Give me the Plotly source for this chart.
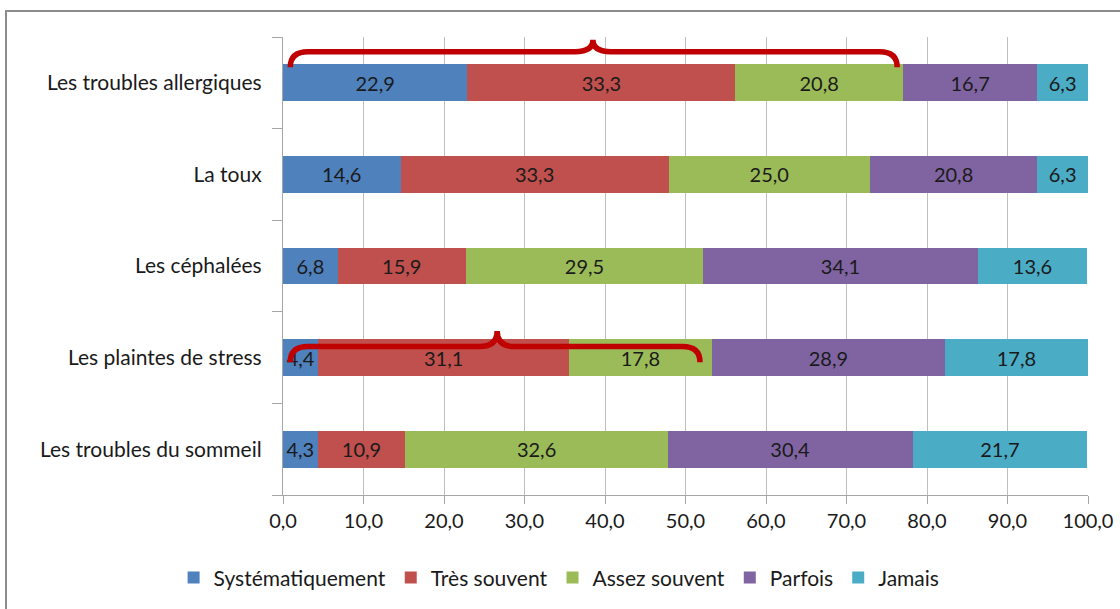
import plotly.graph_objects as go

# categories (bottom to top, as drawn)
categories = ["Les troubles du sommeil", "Les plaintes de stress", "Les céphalées",
              "La toux", "Les troubles allergiques"]

series_names = ["Systématiquement", "Très souvent", "Assez souvent", "Parfois", "Jamais"]
systematiquement = [4.3, 4.4, 6.8, 14.6, 22.9]
tres_souvent = [10.9, 31.1, 15.9, 33.3, 33.3]
assez_souvent = [32.6, 17.8, 29.5, 25.0, 20.8]
parfois = [30.4, 28.9, 34.1, 20.8, 16.7]
jamais = [21.7, 17.8, 13.6, 6.3, 6.3]

x_ticks = [0, 10, 20, 30, 40, 50, 60, 70, 80, 90, 100]

colors = ["#4F81BD", "#C0504D", "#9BBB59", "#8064A2", "#4BACC6"]
all_values = [systematiquement, tres_souvent, assez_souvent, parfois, jamais]

font_family = "Lato, Open Sans, sans-serif"

fig = go.Figure()
for name, vals, col in zip(series_names, all_values, colors):
    fig.add_trace(go.Bar(
        y=categories, x=vals, name=name, orientation="h",
        marker=dict(color=col, line=dict(width=0)),
        text=vals, texttemplate="%{x:.1f}", textposition="inside",
        insidetextanchor="middle", constraintext="none",
        textfont=dict(size=20, color="#1a1a1a", family=font_family),
        width=0.4,
    ))


# accolade rouge (coordonnees en donnees: x en %, y en index de categorie)
def brace(x0, x1, xc, y_end, y_line, y_peak, r):
    return (f"M {x0},{y_end} Q {x0},{y_line} {x0 + r},{y_line} "
            f"L {xc - r},{y_line} Q {xc},{y_line} {xc},{y_peak} "
            f"Q {xc},{y_line} {xc + r},{y_line} "
            f"L {x1 - r},{y_line} Q {x1},{y_line} {x1},{y_end}")


braces = [
    brace(0.9, 76.3, 38.5, 4.17, 4.34, 4.47, 2.2),
    brace(0.9, 51.8, 26.6, 0.95, 1.12, 1.29, 2.2),
]

shapes = [dict(type="path", path=p, xref="x", yref="y",
               line=dict(color="#C00000", width=5.5), layer="above")
          for p in braces]
# cadre du graphique
shapes.append(dict(type="rect", xref="paper", yref="paper",
                   x0=(6 - 283) / 805, x1=1.2, y0=-0.5, y1=(495 - 11) / 458,
                   line=dict(color="#8c8c8c", width=2), layer="below"))

fig.update_layout(
    barmode="stack",
    width=1120, height=609,
    margin=dict(l=283, r=32, t=37, b=114, autoexpand=False),
    paper_bgcolor="white", plot_bgcolor="white",
    separators=", ",
    font=dict(family=font_family, size=20, color="#1a1a1a"),
    shapes=shapes,
    showlegend=True,
    legend=dict(orientation="h", x=0.343, xanchor="center", y=-0.181, yanchor="middle",
                font=dict(size=21), traceorder="normal", itemwidth=30,
                itemclick=False),
    xaxis=dict(range=[0, 100], tickvals=x_ticks, tickformat=".1f",
               showgrid=True, gridcolor="#bfbfbf", gridwidth=1,
               showline=True, linecolor="#a6a6a6", linewidth=1,
               ticks="outside", ticklen=8, tickcolor="#a6a6a6",
               zeroline=False, tickfont=dict(size=20), fixedrange=True,
               automargin=False),
    yaxis=dict(categoryorder="array", categoryarray=categories,
               showgrid=False, showline=True, linecolor="#a6a6a6", linewidth=1,
               ticks="outside", ticklen=10, tickcolor="#a6a6a6",
               tickson="boundaries", ticksuffix="   ",
               tickfont=dict(size=21), fixedrange=True, automargin=False),
)

fig.write_html("out.html", config={"displayModeBar": False},
               post_script="document.body.style.margin='0px';")
